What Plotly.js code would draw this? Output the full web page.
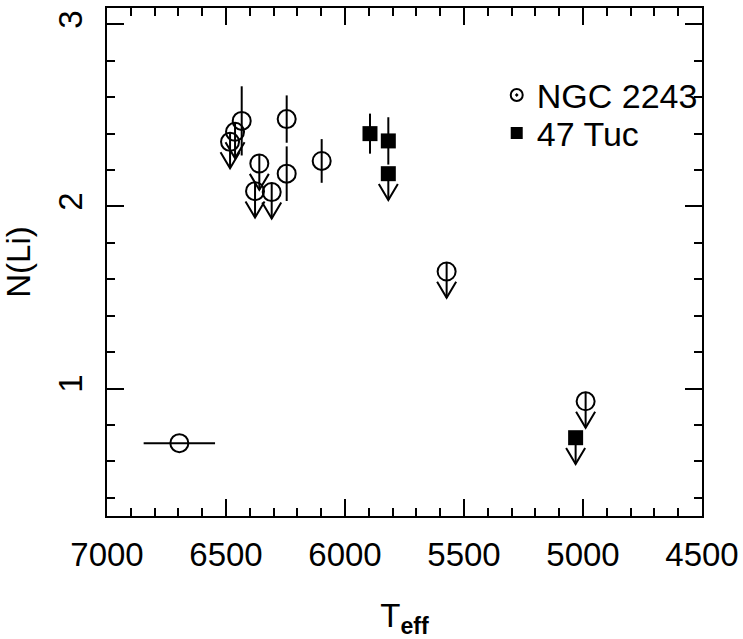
<!DOCTYPE html>
<html>
<head>
<meta charset="utf-8">
<script src="https://cdn.plot.ly/plotly-3.0.1.min.js"></script>
<style>html,body{margin:0;padding:0;background:#fff;}#chart{width:743px;height:639px;}</style>
</head>
<body>
<div id="chart"></div>
<script>
// NGC 2243 detections
var ngcTeff = [6434, 6245, 6245, 6098, 6696];
var ngcNLi  = [2.47, 2.48, 2.18, 2.25, 0.70];
var ngcErrY = [0.19, 0.13, 0.15, 0.12, 0];
var ngcErrX = [0, 0, 0, 0, 150];
// NGC 2243 upper limits
var ngcULTeff = [6462, 6483, 6360, 6378, 6308, 5573, 4989];
var ngcULNLi  = [2.41, 2.355, 2.236, 2.084, 2.079, 1.643, 0.930];
// 47 Tuc detections
var tucTeff = [5895, 5818];
var tucNLi  = [2.40, 2.36];
var tucErrY = [0.11, 0.13];
// 47 Tuc upper limits
var tucULTeff = [5818, 5031];
var tucULNLi  = [2.18, 0.73];
// axis ticks
var xTicks = [7000, 6500, 6000, 5500, 5000, 4500];
var yTicks = [1, 2, 3];
var xRange = [7000, 4500];
var yRange = [0.3, 3.09];

var ARROW_LEN = 0.145, HEAD_DX = 40, HEAD_DY = 0.088;
function arrowPath(xs, ys, start) {
  var X = [], Y = [];
  for (var i = 0; i < xs.length; i++) {
    var tip = ys[i] - ARROW_LEN;
    X.push(xs[i], xs[i], null, xs[i] - HEAD_DX, xs[i], xs[i] + HEAD_DX, null);
    Y.push(ys[i] + start, tip, null, tip + HEAD_DY, tip, tip + HEAD_DY, null);
  }
  return {x: X, y: Y};
}
var a1 = arrowPath(ngcULTeff, ngcULNLi, 0.052);
var a2 = arrowPath(tucULTeff, tucULNLi, 0);

var FONT = 'Liberation Sans, Arial, sans-serif';

var traces = [
  {x: [null], y: [null], xaxis: 'x2', yaxis: 'y2', mode: 'markers', showlegend: false, hoverinfo: 'skip'},
  {x: a1.x, y: a1.y, mode: 'lines', line: {color: '#000', width: 2}, showlegend: false, hoverinfo: 'skip'},
  {x: a2.x, y: a2.y, mode: 'lines', line: {color: '#000', width: 2}, showlegend: false, hoverinfo: 'skip'},
  {x: ngcTeff, y: ngcNLi, mode: 'markers', showlegend: false,
   marker: {symbol: 'circle-open', size: 18, color: '#000', line: {width: 2, color: '#000'}},
   error_y: {type: 'data', array: ngcErrY, color: '#000', thickness: 2, width: 0},
   error_x: {type: 'data', array: ngcErrX, color: '#000', thickness: 2, width: 0}},
  {x: ngcULTeff, y: ngcULNLi, mode: 'markers', showlegend: false,
   marker: {symbol: 'circle-open', size: 18, color: '#000', line: {width: 2, color: '#000'}}},
  {x: tucTeff, y: tucNLi, mode: 'markers', showlegend: false,
   marker: {symbol: 'square', size: 15, color: '#000'},
   error_y: {type: 'data', array: tucErrY, color: '#000', thickness: 2, width: 0}},
  {x: tucULTeff, y: tucULNLi, mode: 'markers', showlegend: false,
   marker: {symbol: 'square', size: 15, color: '#000'}},
  {x: [null], y: [null], mode: 'markers', name: 'NGC 2243', showlegend: true, legend: 'legend',
   marker: {symbol: 'circle-open-dot', size: 12, color: '#000', line: {width: 1.5, color: '#000'}}},
  {x: [null], y: [null], mode: 'markers', name: '47 Tuc', showlegend: true, legend: 'legend2',
   marker: {symbol: 'square', size: 12, color: '#000'}}
];

var axisCommon = {
  showgrid: false, zeroline: false, showline: true, linecolor: '#000', linewidth: 2,
  ticks: 'inside', ticklen: 17, tickwidth: 2, tickcolor: '#000',
  tickfont: {family: FONT, size: 33, color: '#000'}
};
var xMinor = {dtick: 100, tick0: 4500, ticks: 'inside', ticklen: 8, tickwidth: 2, tickcolor: '#000', showgrid: false};
var yMinor = {dtick: 0.2, tick0: 0, ticks: 'inside', ticklen: 8, tickwidth: 2, tickcolor: '#000', showgrid: false};

var legendCommon = {xanchor: 'left', yanchor: 'top', bgcolor: 'rgba(0,0,0,0)',
  font: {size: 34, family: FONT, color: '#000'}, itemsizing: 'constant'};

var layout = {
  width: 743, height: 639,
  margin: {l: 107, r: 41, t: 8, b: 123},
  paper_bgcolor: '#fff', plot_bgcolor: '#fff',
  font: {family: FONT, color: '#000'},
  xaxis: Object.assign({}, axisCommon, {
    range: xRange, tickmode: 'array', tickvals: xTicks, ticktext: xTicks.map(String),
    ticklabelstandoff: 8, minor: xMinor,
    title: {text: 'T<sub><b>eff</b></sub>', font: {size: 33, family: FONT}, standoff: 32}
  }),
  yaxis: Object.assign({}, axisCommon, {
    range: yRange, tickmode: 'array', tickvals: yTicks, ticktext: yTicks.map(String),
    tickangle: -90, ticklabelstandoff: 10, minor: yMinor,
    title: {text: 'N(Li)', font: {size: 33, family: FONT}, standoff: 16}
  }),
  xaxis2: Object.assign({}, axisCommon, {
    overlaying: 'x', side: 'top', anchor: 'y2', range: xRange,
    tickmode: 'array', tickvals: xTicks, showticklabels: false, minor: xMinor
  }),
  yaxis2: Object.assign({}, axisCommon, {
    overlaying: 'y', side: 'right', anchor: 'x2', range: yRange,
    tickmode: 'array', tickvals: yTicks, showticklabels: false, minor: yMinor
  }),
  showlegend: true,
  legend: Object.assign({}, legendCommon, {x: 0.655, y: 0.885}),
  legend2: Object.assign({}, legendCommon, {x: 0.655, y: 0.81})
};

Plotly.newPlot('chart', traces, layout, {staticPlot: true, displayModeBar: false});
</script>
</body>
</html>
